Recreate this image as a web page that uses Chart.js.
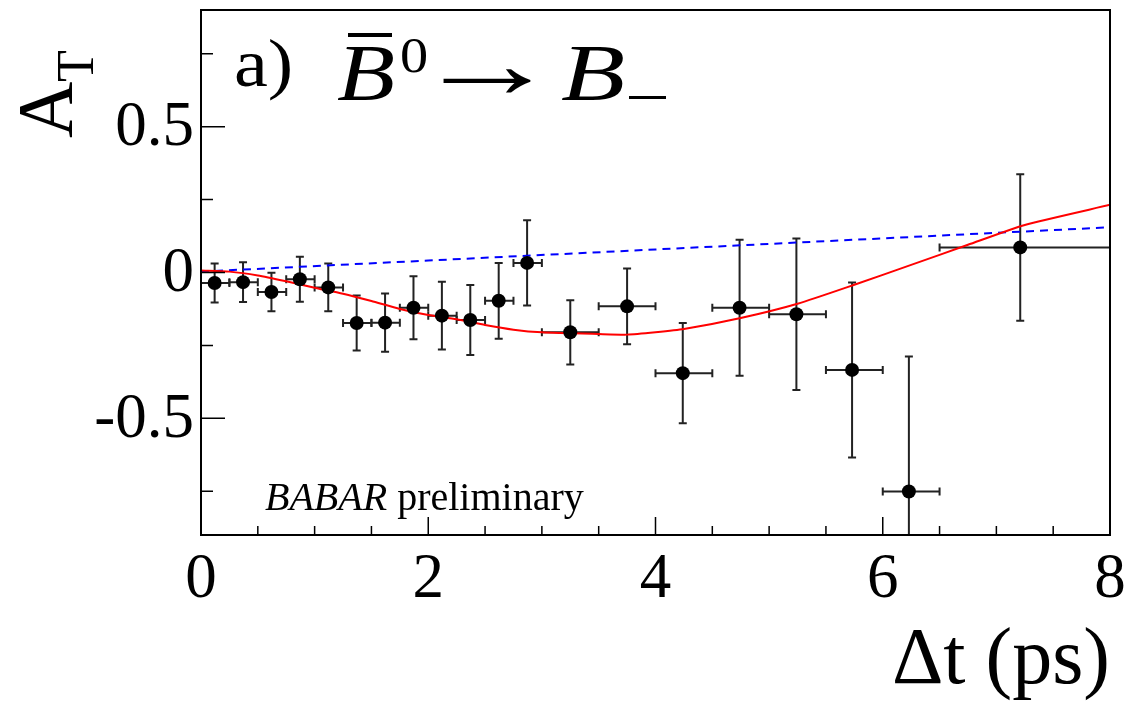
<!DOCTYPE html>
<html>
<head>
<meta charset="utf-8">
<script src="https://cdn.jsdelivr.net/npm/chart.js@4/dist/chart.umd.min.js"></script>
<style>
    html, body { margin: 0; padding: 0; background: #fff; }
    #wrap { width: 1129px; height: 704px; }
</style>
</head>
<body>
<div id="wrap"><canvas id="asymChart" width="1129" height="704"></canvas></div>
<script>
// measured points: mean dt, bin edges, asymmetry and its error
const dtValues = [0.12, 0.37, 0.62, 0.87, 1.12, 1.37, 1.62, 1.87, 2.12, 2.37, 2.62, 2.87, 3.25, 3.75, 4.24, 4.74, 5.24, 5.73, 6.23, 7.21];
const dtLow    = [0.0, 0.25, 0.5, 0.75, 1.0, 1.25, 1.5, 1.75, 2.0, 2.25, 2.5, 2.75, 3.0, 3.5, 4.0, 4.5, 5.0, 5.5, 6.0, 6.5];
const dtHigh   = [0.25, 0.5, 0.75, 1.0, 1.25, 1.5, 1.75, 2.0, 2.25, 2.5, 2.75, 3.0, 3.5, 4.0, 4.5, 5.0, 5.5, 6.0, 6.5, 8.0];
const asymValues = [-0.036, -0.033, -0.067, -0.023, -0.051, -0.173, -0.172, -0.121, -0.148, -0.163, -0.097, 0.033, -0.205, -0.116, -0.345, -0.121, -0.143, -0.334, -0.751, 0.086];
const asymErrors = [0.067, 0.068, 0.066, 0.077, 0.082, 0.094, 0.100, 0.108, 0.116, 0.120, 0.130, 0.146, 0.110, 0.130, 0.172, 0.233, 0.260, 0.300, 0.463, 0.251];

// fit result (red) and no-violation expectation (blue dashed)
const fitT   = [0, 0.25, 0.5, 0.75, 1.0, 1.25, 1.5, 1.75, 2.0, 2.25, 2.5, 2.75, 3.0, 3.5, 3.75, 4.0, 4.25, 4.75, 5.25, 5.75, 6.25, 6.75, 7.25, 8.0];
const fitRed = [0.007, 0.003, -0.010, -0.030, -0.052, -0.073, -0.098, -0.125, -0.146, -0.160, -0.180, -0.196, -0.205, -0.211, -0.213, -0.205, -0.194, -0.156, -0.107, -0.042, 0.026, 0.095, 0.163, 0.232];
const nullT    = [0, 2, 4, 6, 8];
const nullBlue = [0.003, 0.041, 0.079, 0.117, 0.155];

const xMajorTicks = [0, 2, 4, 6, 8];
const xTickLabels = ['0', '2', '4', '6', '8'];
const xMinorTicks = [0.5, 1, 1.5, 2.5, 3, 3.5, 4.5, 5, 5.5, 6.5, 7, 7.5];
const yMajorTicks = [-0.5, 0, 0.5];
const yTickLabels = ['-0.5', '0', '0.5'];
const yMinorTicks = [-0.75, -0.25, 0.25, 0.75];

const SERIF = "'Liberation Serif', 'Times New Roman', serif";

const errorBars = {
    id: 'errorBars',
    beforeDatasetsDraw(chart) {
        const ctx = chart.ctx;
        const xs = chart.scales.x, ys = chart.scales.y;
        const a = chart.chartArea;
        ctx.save();
        ctx.beginPath();
        ctx.rect(a.left, a.top, a.right - a.left, a.bottom - a.top);
        ctx.clip();
        ctx.strokeStyle = '#222';
        ctx.lineWidth = 2;
        const cap = 4;
        for (let i = 0; i < dtValues.length; i++) {
            const px = xs.getPixelForValue(dtValues[i]);
            const py = ys.getPixelForValue(asymValues[i]);
            const yTop = ys.getPixelForValue(asymValues[i] + asymErrors[i]);
            const yBot = ys.getPixelForValue(asymValues[i] - asymErrors[i]);
            const xL = xs.getPixelForValue(dtLow[i]);
            const xR = xs.getPixelForValue(dtHigh[i]);
            ctx.beginPath();
            ctx.moveTo(px, yTop); ctx.lineTo(px, yBot);
            ctx.moveTo(px - cap, yTop); ctx.lineTo(px + cap, yTop);
            ctx.moveTo(px - cap, yBot); ctx.lineTo(px + cap, yBot);
            ctx.moveTo(xL, py); ctx.lineTo(xR, py);
            ctx.moveTo(xL, py - cap); ctx.lineTo(xL, py + cap);
            ctx.moveTo(xR, py - cap); ctx.lineTo(xR, py + cap);
            ctx.stroke();
        }
        ctx.restore();
    }
};

// draw text so that its ink fills the given box (used for the TeX-like label)
function fillBox(ctx, text, left, top, right, bottom) {
    ctx.save();
    ctx.textAlign = 'left';
    ctx.textBaseline = 'alphabetic';
    const m = ctx.measureText(text);
    const inkW = m.actualBoundingBoxLeft + m.actualBoundingBoxRight;
    const inkH = m.actualBoundingBoxAscent + m.actualBoundingBoxDescent;
    const sx = (right - left) / inkW;
    const sy = (bottom - top) / inkH;
    ctx.translate(left + m.actualBoundingBoxLeft * sx, top + m.actualBoundingBoxAscent * sy);
    ctx.scale(sx, sy);
    ctx.fillText(text, 0, 0);
    ctx.restore();
}

const frameAndText = {
    id: 'frameAndText',
    afterDraw(chart) {
        const ctx = chart.ctx;
        const xs = chart.scales.x, ys = chart.scales.y;
        const a = chart.chartArea;
        ctx.save();
        ctx.strokeStyle = '#000';
        ctx.lineWidth = 2;
        ctx.strokeRect(a.left, a.top, a.right - a.left, a.bottom - a.top);

        // ticks, drawn inward like the original
        ctx.beginPath();
        yMajorTicks.forEach(v => { const y = ys.getPixelForValue(v); ctx.moveTo(a.left, y); ctx.lineTo(a.left + 24, y); });
        yMinorTicks.forEach(v => { const y = ys.getPixelForValue(v); ctx.moveTo(a.left, y); ctx.lineTo(a.left + 12, y); });
        xMajorTicks.forEach(v => { const x = xs.getPixelForValue(v); ctx.moveTo(x, a.bottom); ctx.lineTo(x, a.bottom - 18); });
        xMinorTicks.forEach(v => { const x = xs.getPixelForValue(v); ctx.moveTo(x, a.bottom); ctx.lineTo(x, a.bottom - 9); });
        ctx.lineWidth = 1.5;
        ctx.stroke();

        ctx.fillStyle = '#000';
        ctx.font = '63px ' + SERIF;
        ctx.textAlign = 'right';
        ctx.textBaseline = 'middle';
        yMajorTicks.forEach((v, i) => ctx.fillText(yTickLabels[i], 194, ys.getPixelForValue(v) + 2));
        ctx.textAlign = 'center';
        ctx.textBaseline = 'alphabetic';
        xMajorTicks.forEach((v, i) => ctx.fillText(xTickLabels[i], xs.getPixelForValue(v), 597));

        // x title
        ctx.font = '80px ' + SERIF;
        ctx.textAlign = 'right';
        ctx.fillText('\u0394t (ps)', 1110, 683);

        // y title A_T, rotated
        ctx.save();
        ctx.translate(71, 138);
        ctx.rotate(-Math.PI / 2);
        ctx.textAlign = 'left';
        ctx.font = '78px ' + SERIF;
        ctx.fillText('A', 0, 0);
        ctx.font = '52px ' + SERIF;
        ctx.fillText('T', 56, 22);
        ctx.restore();

        // panel label: a)  B-bar^0 -> B_-
        ctx.font = '72px ' + SERIF;
        fillBox(ctx, 'a)', 236, 39, 290, 101);
        ctx.font = 'italic 80px ' + SERIF;
        fillBox(ctx, 'B', 337, 47, 394, 100);
        ctx.fillRect(348, 33, 44, 4);
        ctx.font = '52px ' + SERIF;
        fillBox(ctx, '0', 401, 38, 427, 73);
        ctx.font = '70px ' + SERIF;
        fillBox(ctx, '\u2192', 443, 69, 531, 93);
        ctx.font = 'italic 80px ' + SERIF;
        fillBox(ctx, 'B', 561, 47, 624, 100);
        ctx.fillRect(629, 96, 37, 3);

        // experiment tag
        ctx.textAlign = 'left';
        ctx.font = 'italic 40px ' + SERIF;
        ctx.fillText('BABAR', 265, 510);
        const w = ctx.measureText('BABAR').width;
        ctx.font = '40px ' + SERIF;
        ctx.fillText(' preliminary', 265 + w, 510);
        ctx.restore();
    }
};

const ctxAsym = document.getElementById('asymChart').getContext('2d');

new Chart(ctxAsym, {
    type: 'scatter',
    data: {
        datasets: [{
            label: 'data',
            data: dtValues.map((t, i) => ({ x: t, y: asymValues[i] })),
            backgroundColor: '#000',
            borderWidth: 0,
            pointRadius: 7,
            showLine: false,
            order: 0
        }, {
            label: 'fit',
            data: fitT.map((t, i) => ({ x: t, y: fitRed[i] })),
            showLine: true,
            borderColor: '#ff0000',
            borderWidth: 2,
            pointRadius: 0,
            tension: 0.2,
            order: 1
        }, {
            label: 'no violation',
            data: nullT.map((t, i) => ({ x: t, y: nullBlue[i] })),
            showLine: true,
            borderColor: '#0000ff',
            borderWidth: 2,
            borderDash: [8, 6],
            pointRadius: 0,
            order: 2
        }]
    },
    options: {
        responsive: false,
        animation: false,
        devicePixelRatio: 1,
        layout: { autoPadding: false, padding: { left: 201, top: 10, right: 19, bottom: 169 } },
        scales: {
            x: { type: 'linear', min: 0, max: 8, display: false },
            y: { type: 'linear', min: -0.9, max: 0.9, display: false }
        },
        plugins: { legend: { display: false }, tooltip: { enabled: false } }
    },
    plugins: [errorBars, frameAndText]
});
</script>
</body>
</html>
